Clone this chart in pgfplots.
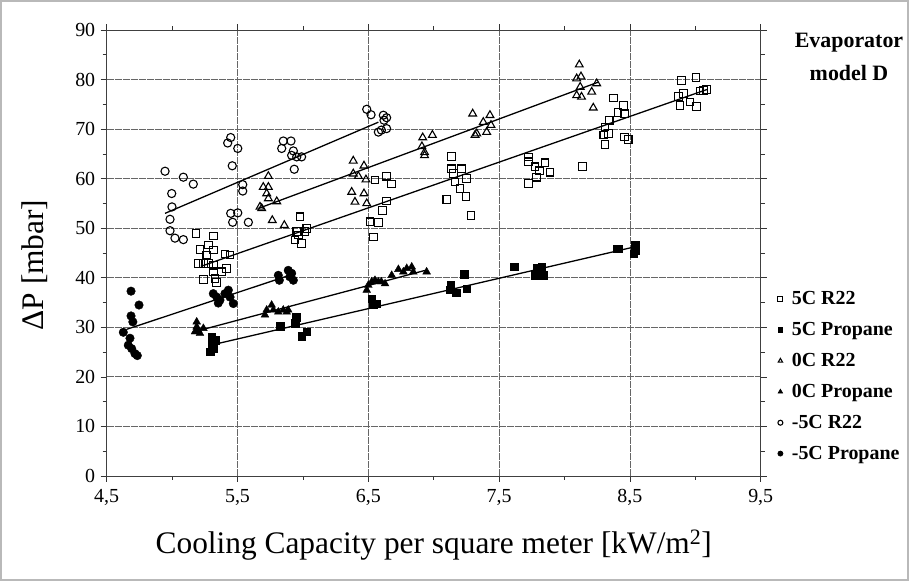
\documentclass[border=0pt]{standalone}
\usepackage{pgfplots}
\pgfplotsset{compat=1.18}
\usepackage{fontspec}
\setmainfont{Liberation Serif}

\pgfplotstableread{
x y
5.183 48.9
5.315 48.4
5.213 45.7
5.277 46.6
5.315 45.6
5.265 44.6
5.200 42.9
5.240 42.9
5.277 42.9
5.315 42.5
5.315 41.2
5.328 39.9
5.240 39.7
5.379 41.2
5.417 41.9
5.404 44.8
5.443 44.6
5.341 39.0
5.978 52.3
5.953 49.3
6.016 49.3
5.965 48.6
5.940 47.6
5.990 46.9
6.030 49.9
6.640 60.5
6.679 58.9
6.550 59.7
6.640 55.5
6.610 53.6
6.513 51.3
6.577 51.2
6.539 48.2
7.137 64.5
7.137 62.0
7.214 62.0
7.150 61.0
7.252 60.0
7.163 59.3
7.200 58.0
7.100 55.8
7.247 56.4
7.285 52.6
7.723 64.4
7.723 63.4
7.774 62.4
7.850 63.2
7.810 61.6
7.890 61.3
7.787 60.3
7.723 59.0
8.139 62.5
8.373 76.3
8.342 71.8
8.310 70.4
8.300 68.8
8.335 69.1
8.310 66.9
8.410 73.4
8.450 74.8
8.460 73.1
8.460 68.4
8.487 67.9
8.896 79.8
9.005 80.4
8.870 76.6
8.908 77.2
8.883 74.8
8.960 75.5
9.010 74.6
9.036 77.7
9.061 77.8
9.087 78.0
}\fiveRtwo

\pgfplotstableread{
x y
5.303 28.1
5.303 26.8
5.315 25.7
5.290 25.1
5.328 27.4
5.825 30.2
5.950 32.1
5.940 30.8
5.990 28.2
6.029 29.1
6.526 35.8
6.539 34.7
6.564 34.8
7.130 38.5
7.125 37.6
7.170 37.0
7.252 37.8
7.234 40.7
7.614 42.2
7.787 41.9
7.826 42.2
7.800 40.9
7.838 40.5
7.775 40.5
8.399 45.9
8.410 45.9
8.539 46.6
8.539 45.6
8.530 44.9
}\fiveProp

\pgfplotstableread{
x y
5.736 60.5
5.697 58.3
5.736 58.3
5.723 57.0
5.736 56.0
5.800 55.4
5.672 54.3
5.685 54.0
5.766 51.6
5.858 50.6
6.385 63.6
6.467 62.6
6.385 61.0
6.424 60.5
6.482 59.8
6.373 57.3
6.467 57.0
6.398 55.3
6.488 55.0
6.916 68.3
6.910 66.5
6.930 65.3
6.930 64.7
6.990 68.8
7.298 73.1
7.379 71.4
7.430 72.8
7.438 70.8
7.405 69.4
7.329 69.1
7.316 68.8
8.113 83.0
8.093 80.2
8.126 80.6
8.120 78.5
8.093 76.8
8.130 76.5
8.208 77.5
8.246 79.2
8.220 74.3
}\zeroRtwo

\pgfplotstableread{
x y
5.188 31.1
5.188 30.1
5.200 29.4
5.213 28.8
5.175 29.1
5.239 29.8
5.710 32.5
5.723 33.5
5.761 34.5
5.774 33.5
5.812 33.1
5.850 33.5
5.876 33.1
5.888 33.5
6.488 37.5
6.500 38.5
6.526 39.2
6.551 39.5
6.577 39.2
6.600 39.2
6.628 38.8
6.679 40.5
6.730 41.7
6.768 41.2
6.794 41.9
6.832 42.2
6.844 41.2
6.946 41.2
}\zeroProp

\pgfplotstableread{
x y
4.946 61.5
4.997 57.0
4.999 54.3
4.984 51.8
4.984 49.5
5.022 48.0
5.086 47.7
5.086 60.3
5.162 58.9
5.448 68.3
5.425 67.2
5.502 66.1
5.460 62.6
5.540 58.8
5.540 57.5
5.448 53.0
5.502 53.1
5.463 51.2
5.583 51.2
5.850 67.6
5.909 67.6
5.838 66.1
5.927 65.6
5.953 64.4
5.990 64.4
5.914 64.7
5.934 61.9
6.488 74.0
6.521 72.9
6.615 72.8
6.620 71.8
6.640 72.3
6.577 69.4
6.600 69.8
6.640 70.1
}\mfiveRtwo

\pgfplotstableread{
x y
4.686 37.3
4.747 34.5
4.686 32.3
4.700 31.1
4.627 29.0
4.678 27.8
4.665 26.4
4.691 25.7
4.716 24.7
4.734 24.3
5.315 36.8
5.341 36.1
5.366 35.5
5.404 36.8
5.430 37.5
5.443 36.1
5.468 34.8
5.353 34.9
5.812 40.5
5.820 39.5
5.888 41.5
5.914 40.9
5.927 39.5
5.900 40.2
}\mfiveProp

\begin{document}
\begin{tikzpicture}
\useasboundingbox (0,0) rectangle (909bp,581bp);
\draw[gray!55, line width=1.5bp] (1bp,1bp) rectangle (908bp,580bp);
\begin{axis}[
  at={(106.7bp,105bp)}, anchor=south west,
  scale only axis, width=654bp, height=446bp,
  xmin=4.5, xmax=9.5, ymin=0, ymax=90,
  xtick={4.5,5.5,6.5,7.5,8.5,9.5},
  xticklabels={{4,5},{5,5},{6,5},{7,5},{8,5},{9,5}},
  minor xtick={5,6,7,8,9},
  ytick={0,10,...,90},
  minor ytick={5,15,...,85},
  /pgf/number format/assume math mode=true,
  tick label style={font=\fontsize{20}{24}\selectfont},
  xticklabel style={yshift=-4bp},
  yticklabel style={xshift=-2bp},
  tick align=outside,
  major tick length=6bp, minor tick length=4bp,
  tick style={black!80, line width=0.6bp},
  grid=major,
  major grid style={black!60, line width=0.8bp, dash pattern=on 7bp off 1bp},
  axis line style={black!75, line width=0.9bp},
  xlabel={Cooling Capacity per square meter [kW/m\textsuperscript{2}]},
  ylabel={ΔP [mbar]},
  label style={font=\fontsize{31.5}{35}\selectfont},
  xlabel style={at={(axis description cs:0.5,-0.155)}, anchor=center},
  ylabel style={at={(axis description cs:-0.11,0.473)}, anchor=center, rotate=0},
  legend style={draw=none, fill=none, font=\bfseries\fontsize{20}{22}\selectfont,
    at={(rel axis cs:1.026,0.418)}, anchor=north west, row sep=12.2bp,
    inner sep=0pt},
  legend cell align=left,
  legend image post style={mark size=2.5pt, line width=0.8pt},
  clip=false,
]
\addplot[only marks, mark=square, mark size=3.8pt, mark options={draw=black, fill=white, line width=1.1pt}] table {\fiveRtwo};
\addlegendentry{\hspace{7bp}5C R22}
\addplot[only marks, mark=square*, mark size=3.8pt, mark options={draw=black, fill=black}] table {\fiveProp};
\addlegendentry{\hspace{7bp}5C Propane}
\addplot[only marks, mark=triangle, mark size=4.5pt, mark options={draw=black, fill=white, line width=1.1pt}] table {\zeroRtwo};
\addlegendentry{\hspace{7bp}0C R22}
\addplot[only marks, mark=triangle*, mark size=4.5pt, mark options={draw=black, fill=black}] table {\zeroProp};
\addlegendentry{\hspace{7bp}0C Propane}
\addplot[only marks, mark=o, mark size=4.1pt, mark options={draw=black, fill=white, line width=1.1pt}] table {\mfiveRtwo};
\addlegendentry{\hspace{7bp}-5C R22}
\addplot[only marks, mark=*, mark size=4.3pt, mark options={draw=black, fill=black}] table {\mfiveProp};
\addlegendentry{\hspace{7bp}-5C Propane}
% regression lines
\addplot[black, line width=1.3bp, forget plot] coordinates {(5.22,42.3) (9.09,78.0)};
\addplot[black, line width=1.3bp, forget plot] coordinates {(5.66,54.0) (8.26,79.5)};
\addplot[black, line width=1.3bp, forget plot] coordinates {(4.946,53.0) (6.577,71.4)};
\addplot[black, line width=1.3bp, forget plot] coordinates {(5.328,26.6) (8.53,46.2)};
\addplot[black, line width=1.3bp, forget plot] coordinates {(5.24,29.6) (6.95,41.6)};
\addplot[black, line width=1.3bp, forget plot] coordinates {(4.653,29.6) (5.92,40.7)};
\end{axis}
\node[font=\bfseries\fontsize{22}{33}\selectfont, align=center] at (849bp,524bp) {Evaporator\\model D};
\end{tikzpicture}
\end{document}
